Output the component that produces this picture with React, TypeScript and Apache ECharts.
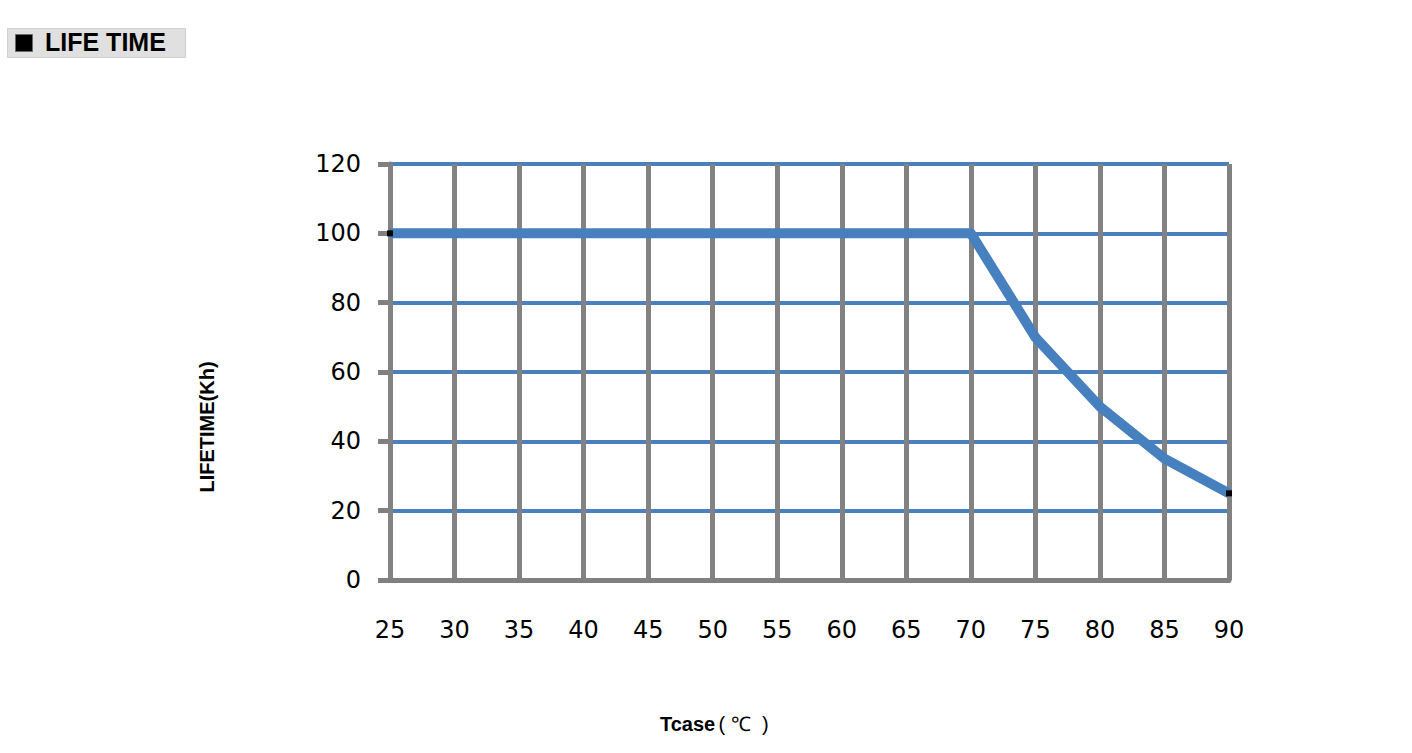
import React, { useEffect, useRef } from "react";
import * as echarts from "echarts";

const tcase = [25, 70, 75, 80, 85, 90];
const lifetime = [100, 100, 70, 50, 35, 25];
const xTicks = [25, 30, 35, 40, 45, 50, 55, 60, 65, 70, 75, 80, 85, 90];
const yTicks = [0, 20, 40, 60, 80, 100, 120];

export default function App() {
  const ref = useRef<HTMLDivElement>(null);
  useEffect(() => {
    const chart = echarts.init(ref.current!, null, { renderer: "svg" });
    const data = tcase.map((x, i) => {
      const endpoint = i === 0 || i === tcase.length - 1;
      return endpoint
        ? { value: [x, lifetime[i]], symbol: "rect", symbolSize: 6, itemStyle: { color: "#000" } }
        : { value: [x, lifetime[i]], symbol: "none" };
    });
    chart.setOption({
      animation: false,
      backgroundColor: "#fff",
      grid: { left: 390, right: 183, top: 164, bottom: 173, containLabel: false },
      xAxis: {
        type: "value",
        min: xTicks[0],
        max: xTicks[xTicks.length - 1],
        interval: 5,
        z: 1,
        axisLine: { show: true, lineStyle: { color: "#808080", width: 5 } },
        axisTick: { show: false },
        axisLabel: { margin: 38, fontSize: 24, color: "#000", fontFamily: "DejaVu Sans" },
        splitLine: { show: true, lineStyle: { color: "#828282", width: 5 } },
      },
      yAxis: {
        type: "value",
        min: yTicks[0],
        max: yTicks[yTicks.length - 1],
        interval: 20,
        z: 0,
        axisLine: { show: true, lineStyle: { color: "#808080", width: 5 } },
        axisTick: { show: true, length: 12, lineStyle: { color: "#808080", width: 5 } },
        axisLabel: { margin: 29, fontSize: 24, color: "#000", fontFamily: "DejaVu Sans" },
        splitLine: { show: true, lineStyle: { color: "#4A80BE", width: 4 } },
      },
      series: [
        {
          type: "line",
          data,
          smooth: false,
          z: 3,
          lineStyle: { color: "#4680BE", width: 10, join: "round", cap: "butt" },
          itemStyle: { color: "#000" },
        },
      ],
      graphic: [
        {
          type: "rect",
          left: 7,
          top: 28,
          shape: { width: 178, height: 29 },
          style: { fill: "#e0e0e0", stroke: "#d0d0d0", lineWidth: 1 },
        },
        {
          type: "rect",
          left: 15,
          top: 34,
          shape: { width: 17, height: 17 },
          style: { fill: "#000", stroke: "#6a6a6a", lineWidth: 1 },
        },
        {
          type: "text",
          left: 45,
          top: 29,
          style: { text: "LIFE TIME", font: "bold 25px 'Liberation Sans', Arial", fill: "#000" },
        },
        {
          type: "text",
          x: 207,
          y: 427,
          rotation: Math.PI / 2,
          style: {
            text: "LIFETIME(Kh)",
            font: "bold 20px 'Liberation Sans', Arial",
            fill: "#000",
            align: "center",
            verticalAlign: "middle",
          },
        },
        {
          type: "text",
          x: 660,
          y: 724,
          style: {
            text: "{b|Tcase} {n|( ℃  )}",
            rich: {
              b: { font: "bold 20px 'Liberation Sans', Arial", fill: "#000" },
              n: { font: "20px 'Liberation Sans', Arial", fill: "#000" },
            },
            verticalAlign: "middle",
          },
        },
      ],
    });
    return () => chart.dispose();
  }, []);
  return (
    <div
      ref={ref}
      style={{ position: "absolute", left: 0, top: 0, width: 1412, height: 753 }}
    />
  );
}
